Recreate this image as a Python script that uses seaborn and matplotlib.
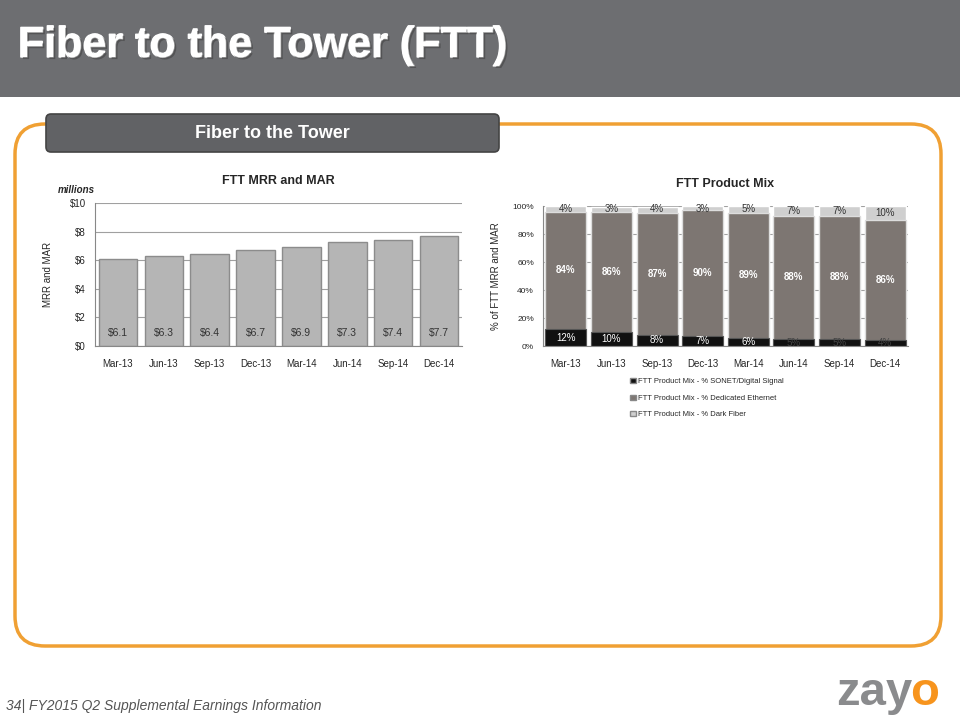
import numpy as np
import pandas as pd
import seaborn as sns
import matplotlib.pyplot as plt
from matplotlib.patches import FancyBboxPatch, Rectangle, Patch
import matplotlib.patheffects as pe

# data
quarters = ['Mar-13', 'Jun-13', 'Sep-13', 'Dec-13', 'Mar-14', 'Jun-14', 'Sep-14', 'Dec-14']
mrr = [6.1, 6.3, 6.4, 6.7, 6.9, 7.3, 7.4, 7.7]
mrr_labels = ['$6.1', '$6.3', '$6.4', '$6.7', '$6.9', '$7.3', '$7.4', '$7.7']
sonet = [12, 10, 8, 7, 6, 5, 5, 4]
ethernet = [84, 86, 87, 90, 89, 88, 88, 86]
dark_fiber = [4, 3, 4, 3, 5, 7, 7, 10]
legend_names = ['FTT Product Mix - % SONET/Digital Signal',
                'FTT Product Mix - % Dedicated Ethernet',
                'FTT Product Mix - % Dark Fiber']

sns.set_style('white')
plt.rcParams['font.family'] = ['Liberation Sans', 'DejaVu Sans']

fig = plt.figure(figsize=(9.6, 7.2), dpi=100)

# background / slide decorations in pixel coords
bg = fig.add_axes([0, 0, 1, 1], zorder=0)
bg.set_xlim(0, 960)
bg.set_ylim(720, 0)
bg.axis('off')

bg.add_patch(Rectangle((0, 0), 960, 97, facecolor='#6d6e71', edgecolor='none'))
bg.text(18, 46, 'Fiber to the Tower (FTT)', color='white', fontsize=31, fontweight='bold',
        va='center', ha='left',
        path_effects=[pe.withStroke(linewidth=1.0, foreground='white'),
                      pe.withSimplePatchShadow(offset=(1.5, -1.5), shadow_rgbFace='#3a3a3a', alpha=0.5)])

bg.add_patch(FancyBboxPatch((15, 124), 926, 522, boxstyle='round,pad=0,rounding_size=30',
                            facecolor='none', edgecolor='#f0a033', linewidth=2.5))
bg.add_patch(FancyBboxPatch((46, 114), 453, 38, boxstyle='round,pad=0,rounding_size=5',
                            facecolor='#616265', edgecolor='#444444', linewidth=1.2))
bg.text(272, 134, 'Fiber to the Tower', color='white', fontsize=13, fontweight='bold',
        ha='center', va='center')

bg.text(6, 706, '34| FY2015 Q2 Supplemental Earnings Information', color='#555555',
        fontsize=10, style='italic', ha='left', va='center')
zay = bg.text(836, 693, 'zay', color='#8a8b8d', fontsize=34, fontweight='bold',
              ha='left', va='center')
fig.canvas.draw()
bb = zay.get_window_extent()
bg.text(bb.x1 / fig.dpi * 100 - 2, 693, 'o', color='#f7941d', fontsize=34, fontweight='bold',
        ha='left', va='center')

# left chart: MRR and MAR
df_mrr = pd.DataFrame({'quarter': quarters, 'mrr': mrr})
ax1 = fig.add_axes([95 / 960, 1 - 346 / 720, 367 / 960, 143 / 720], zorder=2)
sns.barplot(data=df_mrr, x='quarter', y='mrr', color='#b5b5b5', edgecolor='#8c8c8c',
            linewidth=1, width=0.84, saturation=1, ax=ax1)
ax1.set_ylim(0, 10)
ax1.set_yticks(range(0, 11, 2))
ax1.set_yticklabels(['$0', '$2', '$4', '$6', '$8', '$10'])
ax1.yaxis.grid(True, color='#a0a0a0', linewidth=0.8)
ax1.set_axisbelow(True)
ax1.set_xlabel('')
ax1.set_ylabel('MRR and MAR', fontsize=7, labelpad=12)
ax1.tick_params(axis='both', labelsize=7, length=3, color='#888888')
ax1.tick_params(axis='x', pad=6)
for s in ['top', 'right']:
    ax1.spines[s].set_visible(False)
for s in ['left', 'bottom']:
    ax1.spines[s].set_color('#888888')
for i, lab in enumerate(mrr_labels):
    ax1.text(i, 0.9, lab, ha='center', va='center', fontsize=7.5, color='#333333')
ax1.set_title('FTT MRR and MAR', fontsize=9, fontweight='bold', pad=14)
ax1.text(-0.1, 1.09, 'millions', transform=ax1.transAxes, fontsize=7, style='italic',
         fontweight='bold', ha='left', va='center')

# right chart: product mix (stacked by overdrawing cumulative totals)
df_mix = pd.DataFrame({'quarter': quarters, 'sonet': sonet, 'ethernet': ethernet,
                       'dark': dark_fiber})
df_mix['top'] = df_mix['sonet'] + df_mix['ethernet'] + df_mix['dark']
df_mix['mid'] = df_mix['sonet'] + df_mix['ethernet']

ax2 = fig.add_axes([543 / 960, 1 - 346 / 720, 365 / 960, 140 / 720], zorder=2)
colors = ['#111111', '#7d7672', '#cfcfcf']
sns.barplot(data=df_mix, x='quarter', y='top', color=colors[2], edgecolor='white',
            linewidth=1, width=0.9, saturation=1, ax=ax2)
sns.barplot(data=df_mix, x='quarter', y='mid', color=colors[1], edgecolor='#dddddd',
            linewidth=1, width=0.9, saturation=1, ax=ax2)
sns.barplot(data=df_mix, x='quarter', y='sonet', color=colors[0], edgecolor='#555555',
            linewidth=0.8, width=0.9, saturation=1, ax=ax2)
ax2.set_ylim(0, 100)
ax2.set_yticks(range(0, 101, 20))
ax2.set_yticklabels([f'{v}%' for v in range(0, 101, 20)])
ax2.yaxis.grid(True, color='#a0a0a0', linewidth=0.8)
ax2.set_axisbelow(True)
ax2.set_xlabel('')
ax2.set_ylabel('% of FTT MRR and MAR', fontsize=7, labelpad=8)
ax2.tick_params(axis='both', labelsize=7, length=3, color='#888888')
ax2.tick_params(axis='y', labelsize=6)
ax2.tick_params(axis='x', pad=6)
for s in ['top', 'right']:
    ax2.spines[s].set_visible(False)
for s in ['left', 'bottom']:
    ax2.spines[s].set_color('#888888')

for i in range(len(quarters)):
    s, e, d = sonet[i], ethernet[i], dark_fiber[i]
    ax2.text(i, max(s / 2, 2.5), f'{s}%', ha='center', va='center', fontsize=7,
             color='white' if s >= 6 else '#444444')
    ax2.text(i, s + e / 2, f'{e}%', ha='center', va='center', fontsize=7,
             color='white', fontweight='bold')
    ax2.text(i, s + e + d / 2 if d >= 7 else 98, f'{d}%', ha='center', va='center',
             fontsize=7, color='#333333')

ax2.set_title('FTT Product Mix', fontsize=9, fontweight='bold', pad=14)
handles = [Patch(facecolor=c, edgecolor='#888888') for c in colors]
ax2.legend(handles, legend_names, loc='upper left', bbox_to_anchor=(0.22, -0.18),
           frameon=False, fontsize=5.5, handlelength=0.7, handleheight=0.7,
           handletextpad=0.3, labelspacing=1.2)

fig.savefig('out.png', dpi=100)
